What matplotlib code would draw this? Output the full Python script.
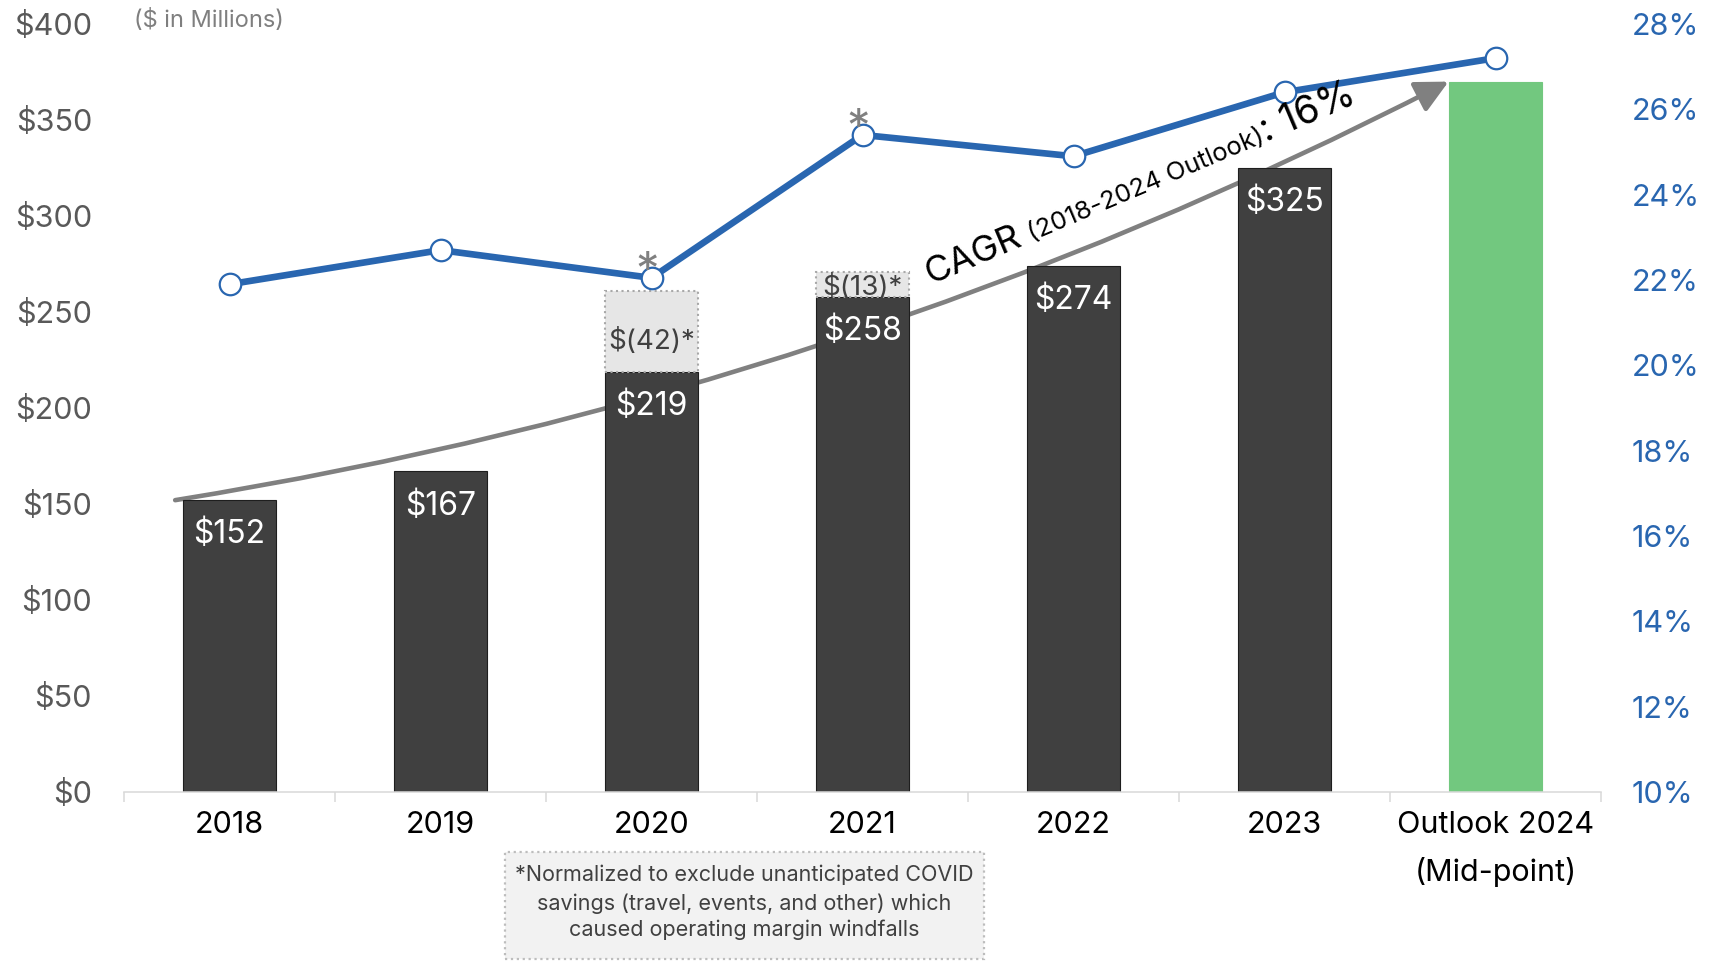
import numpy as np
import matplotlib
matplotlib.use("Agg")
import matplotlib.pyplot as plt
from matplotlib.patches import Rectangle

plt.rcParams["font.family"] = ["Inter", "DejaVu Sans"]

# ------------------------------------------------------------------
# Data
# ------------------------------------------------------------------
years = ["2018", "2019", "2020", "2021", "2022", "2023", "Outlook 2024\n(Mid-point)"]
ebitda = [152, 167, 219, 258, 274, 325, 370]          # $ in millions
covid_savings = [0, 0, 42, 13, 0, 0, 0]               # normalised out
margin = [21.9, 22.7, 22.05, 25.4, 24.9, 26.4, 27.2]  # operating margin %
flagged = [2, 3]                                      # years marked with *
cagr_label = ["CAGR", "(2018-2024 Outlook)", ": 16%"]
footnote = [
    "*Normalized to exclude unanticipated COVID",
    "savings (travel, events, and other) which",
    "caused operating margin windfalls",
]

DARK = "#404040"
GREEN = "#72C87F"
BLUE = "#2966B0"
GRAY = "#808080"

W, H = 1709, 961
fig = plt.figure(figsize=(W / 100, H / 100), dpi=100)
ax = fig.add_axes([124 / W, 1 - 792 / H, (1601 - 124) / W, (792 - 24) / H])
ax2 = ax.twinx()

x = np.arange(len(years))
bar_w = 0.445

# ------------------------------------------------------------------
# Bars
# ------------------------------------------------------------------
colors = [DARK] * (len(years) - 1) + [GREEN]
edges = ["#1E1E1E"] * (len(years) - 1) + [GREEN]
ax.bar(x, ebitda, width=bar_w, color=colors, edgecolor=edges, linewidth=0.8, zorder=2)

for i, v in enumerate(ebitda[:-1]):
    ax.annotate(f"${v}", (x[i], v), xytext=(0, -25), textcoords="offset points",
                ha="center", va="center", color="white", fontsize=23, zorder=4)

for i, adj in enumerate(covid_savings):
    if adj:
        ax.bar(x[i], adj, bottom=ebitda[i], width=bar_w, color="#E6E6E6",
               edgecolor="#A8A8A8", linestyle=":", linewidth=1.5, zorder=2)
        ax.text(x[i], ebitda[i] + adj * 0.37, f"$({adj})*", ha="center", va="center",
                color=DARK, fontsize=20, zorder=4)

# CAGR arrow sits behind the bars
ax.annotate("", xy=(x[-1] - bar_w / 2, ebitda[-1]),
            xytext=(x[0] - bar_w / 2 - 0.035, ebitda[0]),
            arrowprops=dict(arrowstyle="-|>,head_length=0.9,head_width=0.45",
                            color=GRAY, lw=3.3, shrinkA=0, shrinkB=0,
                            connectionstyle="arc3,rad=0.08", mutation_scale=22),
            zorder=1)

# ------------------------------------------------------------------
# Margin line
# ------------------------------------------------------------------
ax2.plot(x, margin, color=BLUE, lw=4.8, marker="o", ms=15.5, mfc="white",
         mec=BLUE, mew=1.6, zorder=3, solid_joinstyle="round")
for i in flagged:
    ax2.annotate("*", (x[i], margin[i]), xytext=(-3, -5), textcoords="offset points",
                 ha="center", va="baseline", fontsize=34, color=GRAY)

# ------------------------------------------------------------------
# Axes formatting
# ------------------------------------------------------------------
ax.set_xlim(-0.5, len(years) - 0.5)
ax.set_ylim(0, 400)
ax2.set_ylim(10, 28)

ax.set_xticks(x)
ax.set_xticklabels(years, linespacing=1.75)
ax.set_xticks(np.arange(-0.5, len(years), 1), minor=True)
ax.tick_params(axis="x", which="major", length=0, pad=14, labelsize=22, labelcolor="black")
ax.tick_params(axis="x", which="minor", length=7.5, width=1.1, color="#D9D9D9")

yt = list(range(0, 401, 50))
ax.set_yticks(yt)
ax.set_yticklabels([f"${v}" for v in yt])
ax.tick_params(axis="y", length=0, pad=23, labelsize=22, labelcolor="#595959")

yt2 = list(range(10, 29, 2))
ax2.set_yticks(yt2)
ax2.set_yticklabels([f"{v}%" for v in yt2])
ax2.tick_params(axis="y", length=0, pad=22, labelsize=22, labelcolor=BLUE)

for a in (ax, ax2):
    for s in a.spines.values():
        s.set_visible(False)
ax.spines["bottom"].set_visible(True)
ax.spines["bottom"].set_color("#D9D9D9")
ax.spines["bottom"].set_linewidth(1.1)

fig.text(134 / W, 1 - 21 / H, "($ in Millions)", fontsize=17, color="#7F7F7F", va="center")

# ------------------------------------------------------------------
# Rotated CAGR label with mixed font sizes on one baseline
# ------------------------------------------------------------------
renderer = fig.canvas.get_renderer()
angle = 23
sizes = [26, 18.5, 28]
gaps = [8, 0, 0]
px, py = 931, H - 284
rad = np.deg2rad(angle)
for piece, fs, gap in zip(cagr_label, sizes, gaps):
    fig.text(px / W, py / H, piece, fontsize=fs, rotation=angle,
             rotation_mode="anchor", ha="left", va="baseline", color="black")
    tmp = fig.text(0, 0, piece, fontsize=fs)
    w = tmp.get_window_extent(renderer).width
    tmp.remove()
    px += (w + gap) * np.cos(rad)
    py += (w + gap) * np.sin(rad)

# ------------------------------------------------------------------
# Footnote box
# ------------------------------------------------------------------
fig.add_artist(Rectangle((505 / W, 1 - 959 / H), (984 - 505) / W, (959 - 852) / H,
                         transform=fig.transFigure, facecolor="#F2F2F2",
                         edgecolor="#BDBDBD", linestyle=":", linewidth=1.6))
for line, yc in zip(footnote, [875, 903.5, 930]):
    fig.text(744 / W, 1 - yc / H, line, ha="center", va="center", fontsize=15.5, color=DARK)

fig.savefig("out.png", dpi=100)
